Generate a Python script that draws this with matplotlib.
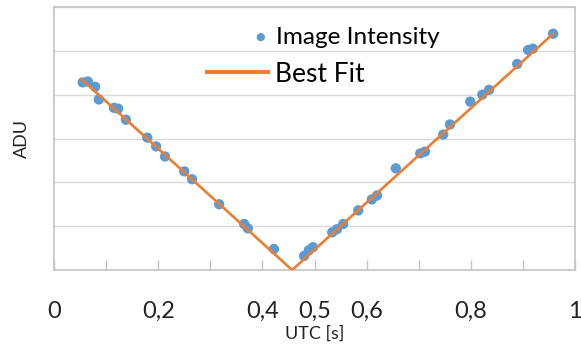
import numpy as np
import matplotlib
matplotlib.use('Agg')
import matplotlib.pyplot as plt
from matplotlib.ticker import FixedLocator, FixedFormatter

plt.rcParams['font.family'] = ['Lato', 'DejaVu Sans']

# measured intensity (arbitrary ADU units, y axis has no numbers)
t_left = [0.055, 0.065, 0.079, 0.086, 0.115, 0.123, 0.138, 0.179, 0.196, 0.213,
          0.250, 0.265, 0.317, 0.365, 0.372, 0.422]
adu_left = [4.28, 4.30, 4.18, 3.89, 3.70, 3.68, 3.43, 3.02, 2.82, 2.59,
            2.25, 2.07, 1.50, 1.05, 0.95, 0.48]
t_right = [0.480, 0.489, 0.497, 0.534, 0.543, 0.555, 0.584, 0.610, 0.620, 0.656,
           0.703, 0.712, 0.747, 0.760, 0.799, 0.822, 0.835, 0.889, 0.910, 0.919, 0.958]
adu_right = [0.32, 0.45, 0.52, 0.86, 0.93, 1.05, 1.36, 1.61, 1.70, 2.32,
             2.66, 2.70, 3.09, 3.32, 3.84, 4.00, 4.11, 4.70, 5.02, 5.05, 5.39]

# best fit: V shape
fit_t = [0.054, 0.457, 0.958]
fit_adu = [4.34, 0.0, 5.39]

tick_vals = [0.0, 0.2, 0.4, 0.5, 0.6, 0.8, 1.0]
tick_text = ['0', '0,2', '0,4', '0,5', '0,6', '0,8', '1']

W, H = 581, 354
fig = plt.figure(figsize=(W / 100, H / 100), dpi=100)
ax = fig.add_axes([54 / W, 1 - 270 / H, (575 - 54) / W, (270 - 7) / H])

blue = '#5B9BD5'
orange = '#ED7D31'

t_all = t_left + t_right
adu_all = adu_left + adu_right
sc = ax.scatter(t_all, adu_all, s=55, color=blue, edgecolors='none', zorder=3)
ln, = ax.plot(fit_t, fit_adu, color=orange, lw=1.9, zorder=4)

ax.set_xlim(0, 1)
ax.set_ylim(0, 6)
ax.set_yticks(np.arange(0, 7, 1))
ax.set_yticklabels([])
ax.tick_params(axis='y', length=0)
ax.grid(axis='y', color='#d9d9d9', lw=1)
ax.set_axisbelow(True)

# tick marks every 0.1, labels only at some
marks = [round(0.1 * i, 1) for i in range(11)]
labels = [tick_text[tick_vals.index(m)] if m in tick_vals else '' for m in marks]
ax.xaxis.set_major_locator(FixedLocator(marks))
ax.xaxis.set_major_formatter(FixedFormatter(labels))
ax.tick_params(axis='x', direction='in', length=7, width=1, color='#c4c4c4',
               pad=22, labelsize=17, labelcolor='#222222')

for s in ax.spines.values():
    s.set_color('#c4c4c4')
    s.set_linewidth(1.2)

ax.set_xlabel('UTC [s]', fontsize=13, labelpad=3, color='#222222')
ax.set_ylabel('ADU', fontsize=13, labelpad=14, color='#222222')

leg1 = ax.legend([sc], ['Image Intensity'], loc='center left',
                 bbox_to_anchor=(253.5 / W, 1 - 37 / H), bbox_transform=fig.transFigure,
                 frameon=False, fontsize=17.5, handlelength=0.6, handletextpad=0.32,
                 borderpad=0, borderaxespad=0, scatterpoints=1, markerscale=0.8)
ax.add_artist(leg1)
leg2 = ax.legend([ln], ['Best Fit'], loc='center left',
                 bbox_to_anchor=(207 / W, 1 - 74 / H), bbox_transform=fig.transFigure,
                 frameon=False, fontsize=19, handlelength=2.31, handletextpad=0.27,
                 borderpad=0, borderaxespad=0)
leg2.get_lines()[0].set_linewidth(3)

fig.savefig('out.png', dpi=100)
